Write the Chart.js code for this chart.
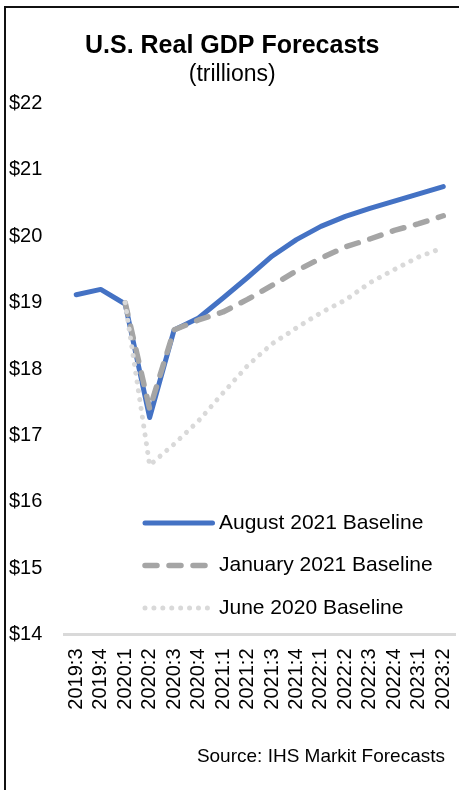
<!DOCTYPE html>
<html>
<head>
<meta charset="utf-8">
<script src="https://cdn.jsdelivr.net/npm/chart.js@4.4.1/dist/chart.umd.min.js"></script>
<style>
  html, body { margin: 0; padding: 0; background: #fff; }
  #caja { position: relative; width: 459px; height: 790px; overflow: hidden; }
  #marco { position: absolute; left: 4px; top: 6px; width: 500px; height: 900px; border: 2px solid #111; }
  #grafico { position: absolute; left: 0; top: 0; }
</style>
</head>
<body>
<div id="caja">
  <div id="marco"></div>
  <canvas id="grafico" width="459" height="790"></canvas>
</div>
<script>
// Trimestres del eje X
const trimestres = ['2019:3', '2019:4', '2020:1', '2020:2', '2020:3', '2020:4',
    '2021:1', '2021:2', '2021:3', '2021:4', '2022:1', '2022:2',
    '2022:3', '2022:4', '2023:1', '2023:2'];

// PIB real en billones de dólares
const agosto2021 = [19.12, 19.20, 18.98, 17.27, 18.59, 18.77,
    19.07, 19.38, 19.70, 19.95, 20.15, 20.30,
    20.42, 20.53, 20.64, 20.75];
const enero2021 = [null, null, 19.00, 17.40, 18.59, 18.74,
    18.86, 19.05, 19.26, 19.48, 19.67, 19.84,
    19.96, 20.09, 20.19, 20.31];
const junio2020 = [null, null, 19.00, 16.55, 16.87, 17.22,
    17.64, 18.05, 18.38, 18.62, 18.85, 19.04,
    19.30, 19.50, 19.69, 19.83];

const nombresSeries = ['August 2021 Baseline', 'January 2021 Baseline', 'June 2020 Baseline'];

const fuente = '"Liberation Sans", Arial, sans-serif';

// Leyenda dentro del área del gráfico
const leyendaInterna = {
    id: 'leyendaInterna',
    afterDraw(chart) {
        const ctx = chart.ctx;
        chart.data.datasets.forEach((ds, i) => {
            const y = 523 + i * 42.5;
            ctx.save();
            ctx.strokeStyle = ds.borderColor;
            ctx.lineWidth = ds.borderWidth;
            ctx.lineCap = 'round';
            ctx.setLineDash(ds.borderDash || []);
            ctx.beginPath();
            ctx.moveTo(145, y);
            ctx.lineTo(i === 0 ? 212.5 : 208, y);
            ctx.stroke();
            ctx.setLineDash([]);
            ctx.fillStyle = '#000';
            ctx.font = '21px ' + fuente;
            ctx.textBaseline = 'middle';
            ctx.textAlign = 'left';
            ctx.fillText(ds.label, 219, y);
            ctx.restore();
        });
    }
};

// Texto de la fuente abajo a la derecha
const textoFuente = {
    id: 'textoFuente',
    afterDraw(chart) {
        const ctx = chart.ctx;
        ctx.save();
        ctx.fillStyle = '#000';
        ctx.font = '19px ' + fuente;
        ctx.textAlign = 'right';
        ctx.textBaseline = 'middle';
        ctx.fillText('Source: IHS Markit Forecasts', 445, 757);
        ctx.restore();
    }
};

const ctx = document.getElementById('grafico').getContext('2d');

new Chart(ctx, {
    type: 'line',
    data: {
        labels: trimestres,
        datasets: [{
            label: nombresSeries[0],
            data: agosto2021,
            borderColor: '#4472C4',
            borderWidth: 5,
            borderCapStyle: 'round',
            borderJoinStyle: 'round',
            pointRadius: 0,
            tension: 0,
            order: 3
        }, {
            label: nombresSeries[1],
            data: enero2021,
            borderColor: '#A5A5A5',
            borderWidth: 5.5,
            borderDash: [12, 12],
            borderCapStyle: 'round',
            borderJoinStyle: 'round',
            pointRadius: 0,
            tension: 0,
            order: 2
        }, {
            label: nombresSeries[2],
            data: junio2020,
            borderColor: '#D9D9D9',
            borderWidth: 5,
            borderDash: [0.01, 8.9],
            borderCapStyle: 'round',
            borderJoinStyle: 'round',
            pointRadius: 0,
            tension: 0,
            order: 1
        }]
    },
    options: {
        responsive: false,
        animation: false,
        devicePixelRatio: 1,
        layout: { padding: { left: 9, right: 3.5, top: 0, bottom: 0 } },
        plugins: {
            legend: { display: false },
            tooltip: { enabled: false },
            title: {
                display: true,
                text: 'U.S. Real GDP Forecasts',
                color: '#000',
                font: { family: fuente, size: 25, weight: 'bold' },
                padding: { top: 31, bottom: 0 }
            },
            subtitle: {
                display: true,
                text: '(trillions)',
                color: '#000',
                font: { family: fuente, size: 23 },
                padding: { top: 0, bottom: 15 }
            }
        },
        scales: {
            x: {
                offset: true,
                grid: { display: false, drawTicks: false },
                border: { display: true, color: '#D9D9D9', width: 3 },
                ticks: {
                    autoSkip: false,
                    minRotation: 90,
                    maxRotation: 90,
                    padding: 14,
                    color: '#000',
                    font: { family: fuente, size: 20 }
                },
                afterFit: s => {
                    s.height = 155.5;
                    // sin relleno extra por las etiquetas giradas
                    s.paddingLeft = 0;
                    s.paddingRight = 0;
                }
            },
            y: {
                min: 14,
                max: 22,
                grid: { display: false, drawTicks: false },
                border: { display: false },
                ticks: {
                    stepSize: 1,
                    crossAlign: 'far',
                    padding: 0,
                    color: '#000',
                    font: { family: fuente, size: 20 },
                    callback: v => '$' + v
                },
                afterFit: s => { s.width = 55; }
            }
        }
    },
    plugins: [leyendaInterna, textoFuente]
});
</script>
</body>
</html>
